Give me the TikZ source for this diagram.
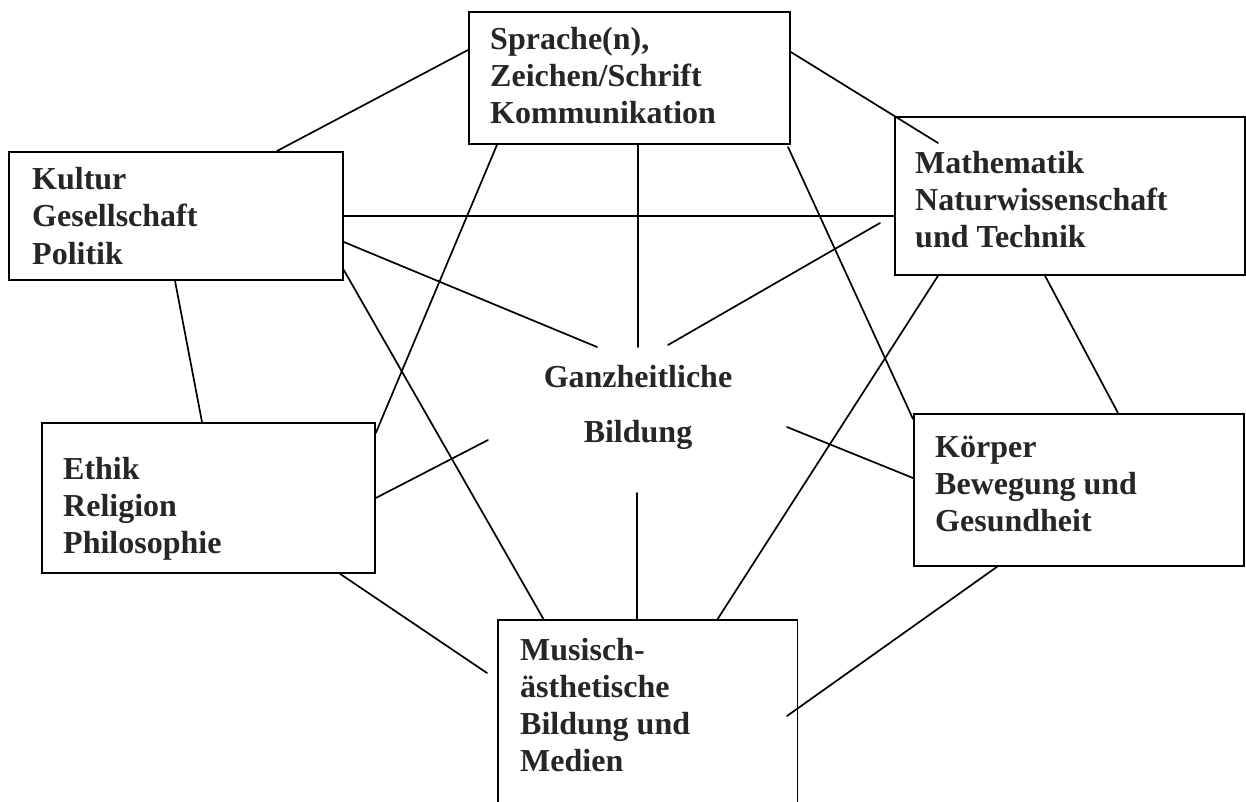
\documentclass[tikz,border=0pt]{standalone}
\usepackage{fontspec}
\setmainfont{Liberation Serif}
\newcommand\boxlines[1]{\vtop{\baselineskip=37pt\lineskiplimit=-1000pt\lineskip=0pt\halign{##\hfil\cr#1\crcr}}}
\begin{document}
\begin{tikzpicture}[x=1pt,y=-1pt,
  box/.style={draw, line width=1.8pt, inner sep=0pt, anchor=north west},
  openbox/.style={inner sep=0pt, anchor=north west},
  txt/.style={inner sep=0pt, anchor=base west, font=\bfseries\fontsize{32}{37}\selectfont, text=black!85},
  ctr/.style={inner sep=0pt, anchor=base, font=\bfseries\fontsize{32}{37}\selectfont, text=black!85},
  link/.style={line width=1.7pt, line cap=round}]
\useasboundingbox (0,0) rectangle (1246,802);
\fill[white] (0,0) rectangle (1246,802);

% boxes
\node[box, minimum width=321pt, minimum height=132pt] (spr) at (468,11) {};
\node[box, minimum width=334pt, minimum height=128pt] (kul) at (8,151) {};
\node[box, minimum width=350pt, minimum height=158pt] (mat) at (894,116) {};
\node[box, minimum width=333pt, minimum height=150pt] (eth) at (41,422) {};
\node[box, minimum width=330pt, minimum height=152pt] (kor) at (913,413) {};
\node[openbox, minimum width=299pt, minimum height=184pt] (mus) at (498,620) {};
\draw[line width=1.8pt] (mus.south west) -- (mus.north west) -- (mus.north east) -- (mus.south east);

% texts
\node[txt] (sprtxt) at (490,50) {\boxlines{Sprache(n),\cr Zeichen/Schrift\cr Kommunikation}};
\node[txt] (kultxt) at (32,190) {\boxlines{Kultur\cr Gesellschaft\cr Politik}};
\node[txt] (mattxt) at (915,174) {\boxlines{Mathematik\cr Naturwissenschaft\cr und Technik}};
\node[txt] (ethtxt) at (63,479) {\boxlines{Ethik\cr Religion\cr Philosophie}};
\node[txt] (kortxt) at (935,457) {\boxlines{Körper\cr Bewegung und\cr Gesundheit}};
\node[txt] (mustxt) at (520,660) {\boxlines{Musisch-\cr ästhetische\cr Bildung und\cr Medien}};
\node[ctr] (gz1) at (638,387) {Ganzheitliche};
\node[ctr] (gz2) at (638,442) {Bildung};

% free ends
\coordinate (m1) at (938,143);
\coordinate (s9) at (788,147);
\coordinate (c1) at (597,347);
\coordinate (c2) at (638,347);
\coordinate (c3) at (668,345);
\coordinate (c3s) at (880,223);
\coordinate (c4) at (488,440);
\coordinate (c5) at (487,673);
\coordinate (c6) at (787,427);
\coordinate (c7) at (637,493);
\coordinate (m2) at (787,716);

% connectors
\draw[link] (kul.north -| 277,0) -- (spr.west |- 0,50);
\draw[link] (spr.east |- 0,52) -- (m1);
\draw[link] (kul.east |- 0,216) -- (mat.west |- 0,216);
\draw[link] (kul.east |- 0,242) -- (c1);
\draw[link] (kul.east |- 0,270) -- (mus.north -| 544,0);
\draw[link] (kul.south -| 175,0) -- (eth.north -| 202,0);
\draw[link] (spr.south -| 497,0) -- (eth.east |- 0,433);
\draw[link] (spr.south -| 638,0) -- (c2);
\draw[link] (s9) -- (kor.west |- 0,419);
\draw[link] (c3s) -- (c3);
\draw[link] (mat.south -| 938,0) -- (mus.north -| 717,0);
\draw[link] (mat.south -| 1045,0) -- (kor.north -| 1118,0);
\draw[link] (eth.east |- 0,498) -- (c4);
\draw[link] (eth.south -| 340,0) -- (c5);
\draw[link] (c6) -- (kor.west |- 0,478);
\draw[link] (c7) -- (mus.north -| 637,0);
\draw[link] (kor.south -| 997,0) -- (m2);
\end{tikzpicture}
\end{document}
